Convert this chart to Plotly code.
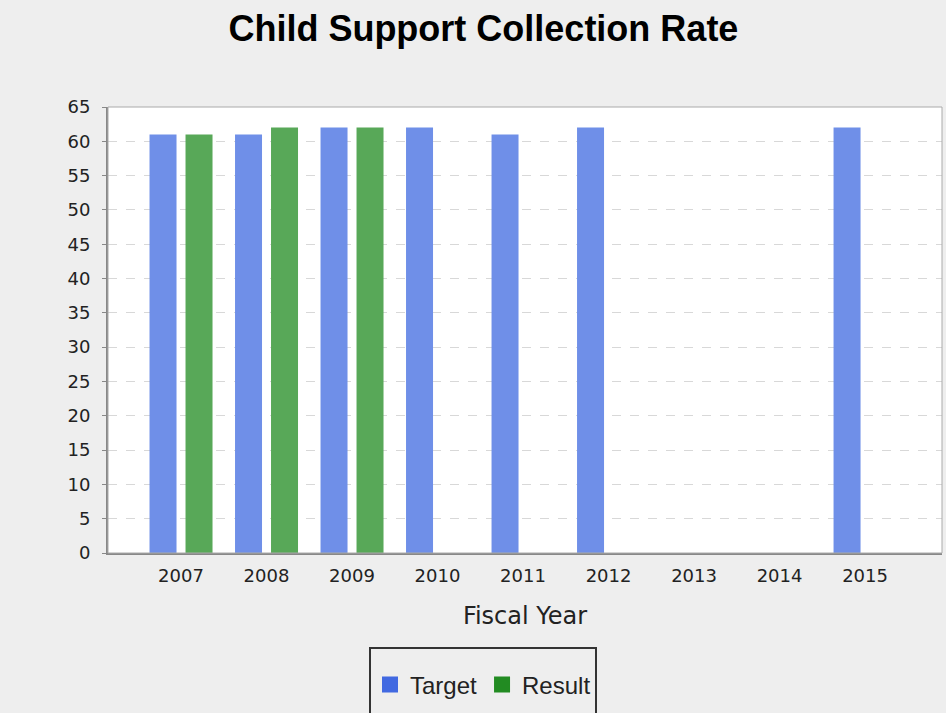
import plotly.graph_objects as go

# Fiscal years and collection-rate values (percent)
years = ["2007", "2008", "2009", "2010", "2011", "2012", "2013", "2014", "2015"]
target = [61, 61, 62, 62, 61, 62, None, None, 62]
result = [61, 62, 62, None, None, None, None, None, None]
y_ticks = list(range(0, 70, 5))

TARGET_BAR = "rgb(111,143,232)"
RESULT_BAR = "rgb(88,168,88)"
TARGET_KEY = "#4169E1"
RESULT_KEY = "#228B22"

fig = go.Figure()
fig.add_trace(go.Bar(x=years, y=target, name="Target", marker_color=TARGET_BAR,
                     marker_line_width=0, showlegend=False))
fig.add_trace(go.Bar(x=years, y=result, name="Result", marker_color=RESULT_BAR,
                     marker_line_width=0, showlegend=False))

# legend keys drawn in the full series colours
for name, col in [("Target", TARGET_KEY), ("Result", RESULT_KEY)]:
    fig.add_trace(go.Scatter(x=[None], y=[None], mode="markers", name=name,
                             marker=dict(symbol="square", size=16, color=col)))

fig.update_layout(
    width=946, height=713,
    paper_bgcolor="#EEEEEE", plot_bgcolor="white",
    margin=dict(l=108, r=4, t=107, b=160),
    barmode="group", bargap=0.158, bargroupgap=0.25,
    title=dict(text="<b>Child Support Collection Rate</b>", x=0.511, xanchor="center",
               y=1 - 28 / 713, yanchor="middle",
               font=dict(family="Liberation Sans, Arial", size=36, color="black")),
    font=dict(family="DejaVu Sans, sans-serif", size=18, color="#333333"),
    legend=dict(orientation="h", x=(483 - 108) / 834, xanchor="center",
                y=-(685 - 553) / 446, yanchor="middle",
                font=dict(family="Liberation Sans, Arial", size=24, color="#222222"),
                bgcolor="rgba(0,0,0,0)", itemwidth=30, tracegroupgap=0,
                itemclick=False),
    showlegend=True,
)
fig.update_xaxes(type="category", range=[-0.854, 8.9], showgrid=False,
                 showline=True, linecolor="#888888", linewidth=2,
                 ticks="", ticklabelstandoff=5, tickfont=dict(size=18, color="#222222"),
                 title=dict(text="Fiscal Year", standoff=23,
                            font=dict(family="DejaVu Sans, sans-serif", size=24,
                                      color="#222222")))
fig.update_yaxes(range=[0, 65], tickvals=y_ticks, showgrid=True,
                 gridcolor="#D8D8D8", griddash="dash", gridwidth=1,
                 showline=True, linecolor="#888888", linewidth=2,
                 ticks="outside", ticklen=4, tickcolor="#888888",
                 ticklabelstandoff=8,
                 tickfont=dict(size=18, color="#222222"), zeroline=False)

# plot frame and legend box
fig.add_shape(type="rect", xref="paper", yref="paper", x0=0, x1=1, y0=0, y1=1,
              line=dict(color="#AAAAAA", width=1), layer="above")
fig.add_shape(type="rect", xref="paper", yref="paper",
              x0=(370 - 108) / 834, x1=(596 - 108) / 834,
              y0=-(722 - 553) / 446, y1=-(648 - 553) / 446,
              line=dict(color="#333333", width=2), fillcolor="rgba(0,0,0,0)")

fig.write_html("out.html")
